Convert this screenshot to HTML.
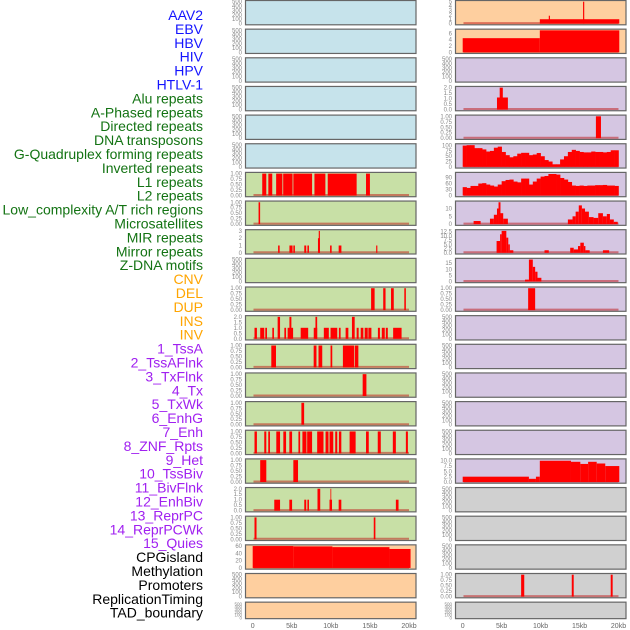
<!DOCTYPE html>
<html><head><meta charset="utf-8"><style>
body{margin:0;background:#fff;width:630px;height:630px;overflow:hidden}
svg{display:block}
</style></head><body>
<svg id="chart" width="630" height="630" viewBox="0 0 630 630" xmlns="http://www.w3.org/2000/svg">
<g id="labels" font-family="Liberation Sans, sans-serif" font-size="14" text-anchor="end"></g>
<g id="panels"></g>
</svg>
<script>
const trackLabels = ["AAV2","EBV","HBV","HIV","HPV","HTLV-1","Alu repeats","A-Phased repeats","Directed repeats","DNA transposons","G-Quadruplex forming repeats","Inverted repeats","L1 repeats","L2 repeats","Low_complexity A/T rich regions","Microsatellites","MIR repeats","Mirror repeats","Z-DNA motifs","CNV","DEL","DUP","INS","INV","1_TssA","2_TssAFlnk","3_TxFlnk","4_Tx","5_TxWk","6_EnhG","7_Enh","8_ZNF_Rpts","9_Het","10_TssBiv","11_BivFlnk","12_EnhBiv","13_ReprPC","14_ReprPCWk","15_Quies","CPGisland","Methylation","Promoters","ReplicationTiming","TAD_boundary"];
const labelGroups = [6,13,5,15,5];
const groupColors = ["#1414ff","#137313","#ffa500","#a020f0","#000000"];
const xTicks = [0,5,10,15,20];
const xTickLabels = ["0","5kb","10kb","15kb","20kb"];

const emptyTicks=[0,100,200,300,400,500];
const unitTicks=[0,0.25,0.5,0.75,1];
// left column data (segments [startKb,endKb,value])
const segL1=[[1.22,1.74,1],[2.0,2.5,1],[3.0,3.8,1],[3.9,5.1,1],[5.2,7.6,1],[7.9,9.3,1],[9.6,13.3,1],[14.5,15.0,1]];
const segL2=[[0.75,0.95,1]];
const segL3=[[3.25,3.45,1],[4.7,5.1,1],[5.2,5.4,1],[6.6,6.85,1],[7.0,7.2,1],[8.35,8.6,2],[8.45,8.6,3],[9.9,10.1,1],[11.0,11.35,1],[15.8,15.95,1]];
const segL4=[[15.15,15.6,1],[16.7,17.0,1],[17.7,18.05,1],[19.4,19.6,1]];
const segL5=[[0.23,0.54,1],[0.96,1.48,1],[1.61,1.83,1],[2.51,2.72,1],[3.19,3.5,2],[4.05,4.27,1],[4.47,5.17,1],[4.7,4.95,2],[6.14,7.1,1],[7.81,8.25,1],[8.03,8.25,2],[9.1,9.74,1],[9.96,10.82,1],[11.03,11.25,1],[11.89,12.24,1],[12.7,13.05,2],[13.3,13.56,1],[13.82,14.16,1],[14.33,14.72,1],[14.8,15.19,1],[16.02,16.28,1],[16.52,16.9,1],[17.03,17.29,1],[17.97,19.05,1]];
const segL6=[[2.38,2.98,1],[7.8,8.16,1],[8.42,8.9,1],[9.96,10.18,1],[11.54,12.96,1],[13.05,13.52,1]];
const segL7=[[14.07,14.55,1]];
const segL8=[[6.23,6.58,1]];
const segL9=[[0.23,0.54,1],[1.48,1.74,1],[1.99,2.21,1],[3.02,3.5,1],[3.92,4.27,1],[4.69,5.04,1],[5.85,6.07,1],[6.36,6.88,1],[6.97,7.6,1],[8.25,9.06,1],[9.32,9.7,1],[9.83,10.31,1],[10.56,10.82,1],[11.03,11.34,1],[12.4,13.17,1],[14.5,14.85,1],[16.0,16.39,1],[17.93,18.32,1],[19.6,19.86,1]];
const segL10=[[0.96,1.74,1],[5.2,5.8,1]];
const segL11=[[2.76,3.5,1],[4.69,5.04,1],[6.6,6.85,1],[7.0,7.2,1],[8.29,8.64,2],[9.83,10.15,1],[9.95,10.05,2],[11.0,11.34,1],[18.32,18.66,1]];
const segL12=[[0.23,0.49,1],[15.49,15.7,1]];
const segCPG=[[0,5.2,60],[5.2,10.2,59],[10.2,17.5,57],[17.5,20.2,52]];
// right column data
const segR0=[[9.9,20.1,1],[11.05,11.2,1.8],[15.45,15.6,5]];
const segR1=[[0,9.9,4.5],[9.9,20.1,7]];
const segR3=[[4.4,5.8,1.1],[4.75,5.15,2]];
const segR4=[[17.1,17.75,1]];
const binsR5=[100,102,102,88,88,82,72,75,90,95,70,55,45,50,62,66,66,55,58,65,50,32,25,12,12,35,50,70,80,75,70,68,68,72,70,70,68,70,78,78];
const binsR6=[42,38,48,48,60,62,55,50,45,55,72,78,80,70,66,85,85,55,70,85,95,98,108,108,105,88,80,68,50,48,50,48,50,50,52,52,53,50,50,48];
const segR7=[[1.4,2.3,2],[3.5,4.0,3.5],[4.0,4.4,6],[4.4,4.6,10],[4.6,4.85,14],[4.85,5.2,7],[5.2,5.8,3.5],[13.5,14.1,3],[14.1,14.5,5],[14.5,14.9,8],[14.9,15.3,12],[15.3,15.7,10],[15.7,16.2,8],[16.2,16.8,4.5],[16.8,17.4,4],[17.4,18.0,7],[18.0,18.5,5],[18.5,18.9,6.5],[18.9,19.4,3],[19.4,19.9,1.5]];
const segR8=[[4.35,4.8,7],[4.8,5.0,11],[5.0,5.6,13],[5.6,5.85,9],[5.85,6.05,5],[6.05,6.5,1.5],[10.5,11.05,1.5],[13.8,14.25,3],[14.25,14.8,2],[14.8,15.1,4],[15.1,15.55,6],[15.55,15.75,4],[15.75,16.3,1.5],[18.0,18.8,1.5]];
const segR9=[[8.0,8.5,1.5],[8.5,9.0,18],[9.0,9.3,12],[9.3,9.6,8],[9.6,10.1,3]];
const segR10=[[8.4,9.3,1]];
const segR16=[[0,8.5,2.5],[8.5,9.4,1.5],[9.4,9.9,2.5],[9.9,13.9,10],[13.9,15.1,9.5],[15.1,16.1,8.5],[16.1,17.2,9.5],[17.2,18.3,8.7],[18.3,20.1,7.5]];
const segR20=[[7.5,7.9,1],[14.0,14.25,1],[19.0,19.25,1]];

const BLUE="#c6e3eb",GREEN="#c8e0a6",PEACH="#fecf9f",PURP="#d5c6e2",GRAY="#d0d0d0";
const E={ticks:emptyTicks,ylim:500,dec:0};
const U={ticks:unitTicks,ylim:1,dec:2};
const leftPanels=[
 {bg:BLUE,...E},{bg:BLUE,...E},{bg:BLUE,...E},{bg:BLUE,...E},{bg:BLUE,...E},{bg:BLUE,...E},
 {bg:GREEN,...U,segs:segL1},{bg:GREEN,...U,segs:segL2},
 {bg:GREEN,ticks:[0,1,2,3],ylim:3,dec:0,segs:segL3},
 {bg:GREEN,...E},
 {bg:GREEN,...U,segs:segL4},
 {bg:GREEN,ticks:[0,0.5,1,1.5,2],ylim:2,dec:1,segs:segL5},
 {bg:GREEN,...U,segs:segL6},{bg:GREEN,...U,segs:segL7},{bg:GREEN,...U,segs:segL8},{bg:GREEN,...U,segs:segL9},{bg:GREEN,...U,segs:segL10},
 {bg:GREEN,ticks:[0,0.5,1,1.5,2],ylim:2,dec:1,segs:segL11},
 {bg:GREEN,...U,segs:segL12},
 {bg:PEACH,ticks:[0,20,40,60],ylim:60,dec:0,segs:segCPG},
 {bg:PEACH,...E},{bg:PEACH,...E}
];
const rightPanels=[
 {bg:PEACH,ticks:[0,1,2,3,4,5],ylim:5,dec:0,segs:segR0},
 {bg:PEACH,ticks:[0,2,4,6],ylim:7,dec:0,segs:segR1},
 {bg:PURP,...E},
 {bg:PURP,ticks:[0,0.5,1,1.5,2],ylim:2,dec:1,segs:segR3},
 {bg:PURP,...U,segs:segR4},
 {bg:PURP,ticks:[0,25,50,75,100],ylim:103,dec:0,bins:binsR5},
 {bg:PURP,ticks:[0,30,60,90],ylim:110,dec:0,bins:binsR6},
 {bg:PURP,ticks:[0,5,10],ylim:14,dec:0,segs:segR7},
 {bg:PURP,ticks:[0,2.5,5,7.5,10,12.5],ylim:13,dec:1,segs:segR8},
 {bg:PURP,ticks:[0,5,10,15],ylim:18,dec:0,segs:segR9},
 {bg:PURP,...U,segs:segR10},
 {bg:PURP,...E},{bg:PURP,...E},{bg:PURP,...E},{bg:PURP,...E},{bg:PURP,...E},
 {bg:PURP,ticks:[0,2.5,5,7.5,10],ylim:10.3,dec:1,segs:segR16},
 {bg:GRAY,...E},{bg:GRAY,...E},{bg:GRAY,...E},
 {bg:GRAY,...U,segs:segR20},
 {bg:GRAY,...E}
];

const NS="http://www.w3.org/2000/svg";
function mk(tag,attrs,parent){const e=document.createElementNS(NS,tag);for(const k in attrs)e.setAttribute(k,attrs[k]);parent.appendChild(e);return e;}

// labels
const lg=document.getElementById('labels');
let gi=0,gc=0;
trackLabels.forEach((t,i)=>{
 while(gc>=labelGroups[gi]){gi++;gc=0;}
 gc++;
 const tx=mk('text',{x:203,y:(20+i*13.9).toFixed(1),fill:groupColors[gi]},lg);
 
 
 tx.textContent=t;
});

const pg=document.getElementById('panels');
const cols=[{left:245.5,right:416,x0:252.7,x20:409,panels:leftPanels,name:'left'},{left:455.5,right:626,x0:462.7,x20:618.5,panels:rightPanels,name:'right'}];
cols.forEach(col=>{
 const xs=kb=>col.x0+(col.x20-col.x0)*kb/20;
 col.panels.forEach((p,r)=>{
  const top=0.5+28.65*r, h=(r===21?16.5:24.3), bot=top+h;
  const g=mk('g',{},pg);
  
  
  mk('rect',{x:col.left,y:top,width:col.right-col.left,height:h,fill:p.bg,stroke:'#666','stroke-width':1.2},g);
  const ys=v=>(bot-1.2)-(h-2.4)*v/p.ylim;
  p.ticks.forEach(t=>{
   const tt=mk('text',{x:col.left-3.5,y:(ys(t)+2).toFixed(1),'font-size':(r===21?4.5:6),fill:'#888','text-anchor':'end','font-family':'Liberation Sans, sans-serif'},g);
   
   
   tt.textContent=t.toFixed(p.dec);
  });
  if(p.segs||p.bins){
   mk('line',{x1:xs(0.1),x2:xs(20),y1:ys(0)-0.5,y2:ys(0)-0.5,stroke:'rgba(190,20,20,0.5)','stroke-width':2},g);
  }
  if(p.segs){
   p.segs.forEach(s=>{
    const b=mk('rect',{x:xs(s[0]).toFixed(2),y:ys(s[2]).toFixed(2),width:(xs(s[1])-xs(s[0])).toFixed(2),height:(ys(0)-ys(s[2])).toFixed(2),fill:'#ff0000'},g);
    
    
   });
  }
  if(p.bins){
   p.bins.forEach((v,i)=>{
    const s=i*0.5,e=s+0.5;
    const b=mk('rect',{x:xs(s).toFixed(2),y:ys(v).toFixed(2),width:(xs(e)-xs(s)+0.3).toFixed(2),height:(ys(0)-ys(v)).toFixed(2),fill:'#ff0000'},g);
    
    
   });
  }
 });
 xTicks.forEach((t,i)=>{
  const tt=mk('text',{x:xs(t),y:628,'font-size':7,fill:'#666','text-anchor':'middle','font-family':'Liberation Sans, sans-serif'},pg);
  
  
  tt.textContent=xTickLabels[i];
 });
});
</script>
</body></html>
